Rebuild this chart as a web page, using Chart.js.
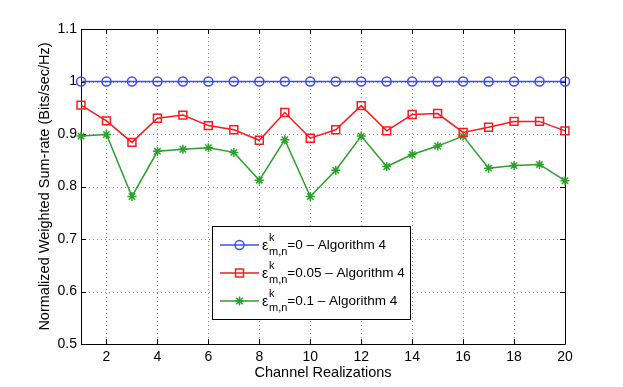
<!DOCTYPE html>
<html>
<head>
<meta charset="utf-8">
<script src="https://cdn.jsdelivr.net/npm/chart.js@4/dist/chart.umd.min.js"></script>
<style>
html, body { margin: 0; padding: 0; background: #fff; }
#wrap { width: 623px; height: 387px; }
</style>
</head>
<body>
<div id="wrap"><canvas id="lineChart"></canvas></div>
<script>
// datos
const realizations = [1, 2, 3, 4, 5, 6, 7, 8, 9, 10, 11, 12, 13, 14, 15, 16, 17, 18, 19, 20];
const xTicks = [2, 4, 6, 8, 10, 12, 14, 16, 18, 20];
const yTicks = [0.5, 0.6, 0.7, 0.8, 0.9, 1.0, 1.1];
const epsValues = ["0", "0.05", "0.1"];
const algoName = "Algorithm 4";

const eps0 = [1, 1, 1, 1, 1, 1, 1, 1, 1, 1, 1, 1, 1, 1, 1, 1, 1, 1, 1, 1];
const eps005 = [0.955, 0.925, 0.884, 0.930, 0.936, 0.916, 0.908, 0.888, 0.941, 0.892,
                0.908, 0.954, 0.906, 0.937, 0.939, 0.903, 0.913, 0.924, 0.924, 0.906];
const eps01 = [0.896, 0.899, 0.781, 0.867, 0.871, 0.874, 0.865, 0.812, 0.889, 0.781,
               0.831, 0.896, 0.838, 0.861, 0.877, 0.896, 0.835, 0.840, 0.842, 0.811];

const colors = ["#3b4cf5", "#f51c1c", "#2aa02a"];
const markers = ["circle", "rect", "star"];
const markerSize = [4.5, 5.6, 4.5];
const series = [eps0, eps005, eps01];

const FONT = "'Liberation Sans', Arial, Helvetica, sans-serif";

function toPoints(vals) {
  return realizations.map((x, i) => ({ x: x, y: vals[i] }));
}

// rejilla punteada, marco y marcas de ejes al estilo matlab
const framePlugin = {
  id: "frame",
  beforeDatasetsDraw(chart) {
    const { ctx, chartArea: a, scales } = chart;
    ctx.save();
    ctx.strokeStyle = "#909090";
    ctx.lineWidth = 1;
    ctx.setLineDash([1, 3]);
    ctx.beginPath();
    xTicks.forEach(v => {
      const px = Math.round(scales.x.getPixelForValue(v)) + 0.5;
      ctx.moveTo(px, a.top); ctx.lineTo(px, a.bottom);
    });
    yTicks.forEach(v => {
      const py = Math.round(scales.y.getPixelForValue(v)) + 0.5;
      ctx.moveTo(a.left, py); ctx.lineTo(a.right, py);
    });
    ctx.stroke();
    ctx.setLineDash([]);
    ctx.strokeStyle = "#000";
    ctx.beginPath();
    ctx.rect(a.left + 0.5, a.top + 0.5, a.right - a.left, a.bottom - a.top);
    ctx.stroke();
    ctx.beginPath();
    xTicks.forEach(v => {
      const px = Math.round(scales.x.getPixelForValue(v)) + 0.5;
      ctx.moveTo(px, a.bottom); ctx.lineTo(px, a.bottom - 5);
      ctx.moveTo(px, a.top); ctx.lineTo(px, a.top + 5);
    });
    yTicks.forEach(v => {
      const py = Math.round(scales.y.getPixelForValue(v)) + 0.5;
      ctx.moveTo(a.left, py); ctx.lineTo(a.left + 5, py);
      ctx.moveTo(a.right, py); ctx.lineTo(a.right - 5, py);
    });
    ctx.stroke();
    ctx.restore();
  }
};

// leyenda dentro del area con epsilon^k_{m,n}
const legendPlugin = {
  id: "epsLegend",
  afterDraw(chart) {
    const { ctx, chartArea: a } = chart;
    const bx = a.left + 131, by = a.top + 197, bw = 198, bh = 93;
    ctx.save();
    ctx.fillStyle = "#fff";
    ctx.fillRect(bx, by, bw, bh);
    ctx.strokeStyle = "#000";
    ctx.lineWidth = 1;
    ctx.strokeRect(bx + 0.5, by + 0.5, bw, bh);
    epsValues.forEach((e, i) => {
      const cy = by + 19 + i * 28;
      ctx.strokeStyle = colors[i];
      ctx.lineWidth = 1.5;
      ctx.beginPath();
      ctx.moveTo(bx + 8, cy);
      ctx.lineTo(bx + 47, cy);
      ctx.stroke();
      ctx.fillStyle = "rgba(0,0,0,0)";
      Chart.helpers.drawPoint(ctx, {
        pointStyle: markers[i], radius: markerSize[i], borderWidth: 1.5
      }, bx + 27.5, cy);
      ctx.fillStyle = "#000";
      ctx.textBaseline = "middle";
      ctx.textAlign = "left";
      ctx.font = "14px " + FONT;
      const tx = bx + 50;
      ctx.fillText("\u03b5", tx, cy + 1);
      ctx.font = "11px " + FONT;
      ctx.fillText("k", tx + 7, cy - 7);
      ctx.fillText("m,n", tx + 7, cy + 7);
      const subW = ctx.measureText("m,n").width;
      ctx.font = "13.5px " + FONT;
      ctx.fillText("=" + e + " \u2013 " + algoName, tx + 7 + subW, cy);
    });
    ctx.restore();
  }
};

let ctx = document.getElementById("lineChart").getContext("2d");
let lineChart = new Chart(ctx, {
  type: "line",
  data: {
    datasets: series.map((vals, i) => ({
      label: "\u03b5=" + epsValues[i] + " \u2013 " + algoName,
      data: toPoints(vals),
      borderColor: colors[i],
      backgroundColor: "rgba(0,0,0,0)",
      borderWidth: 1.5,
      pointStyle: markers[i],
      pointRadius: markerSize[i],
      pointBorderColor: colors[i],
      pointBackgroundColor: "rgba(0,0,0,0)",
      pointBorderWidth: 1.5,
      tension: 0,
      clip: false
    }))
  },
  options: {
    responsive: true,
    maintainAspectRatio: false,
    animation: false,
    layout: { padding: { left: 0, right: 58, top: 29, bottom: 0 } },
    plugins: {
      legend: { display: false },
      tooltip: { enabled: false }
    },
    scales: {
      x: {
        type: "linear",
        min: 1,
        max: 20,
        afterBuildTicks: s => { s.ticks = xTicks.map(v => ({ value: v })); },
        afterFit: s => { s.height = 43; },
        ticks: { color: "#000", padding: 5, font: { family: FONT, size: 14 } },
        grid: { display: false, drawTicks: false },
        border: { display: false },
        title: {
          display: true,
          text: "Channel Realizations",
          color: "#000",
          font: { family: FONT, size: 14.5 },
          padding: { top: 0, bottom: 5 }
        }
      },
      y: {
        min: 0.5,
        max: 1.1,
        afterBuildTicks: s => { s.ticks = yTicks.map(v => ({ value: v })); },
        afterFit: s => { s.width = 81; },
        ticks: {
          color: "#000",
          padding: 4,
          font: { family: FONT, size: 14 },
          callback: v => String(Number(v.toFixed(1)))
        },
        grid: { display: false, drawTicks: false },
        border: { display: false },
        title: {
          display: true,
          text: "Normalized Weighted Sum-rate (Bits/sec/Hz)",
          color: "#000",
          font: { family: FONT, size: 14.5 },
          padding: { top: 36, bottom: 0 }
        }
      }
    }
  },
  plugins: [framePlugin, legendPlugin]
});
</script>
</body>
</html>
